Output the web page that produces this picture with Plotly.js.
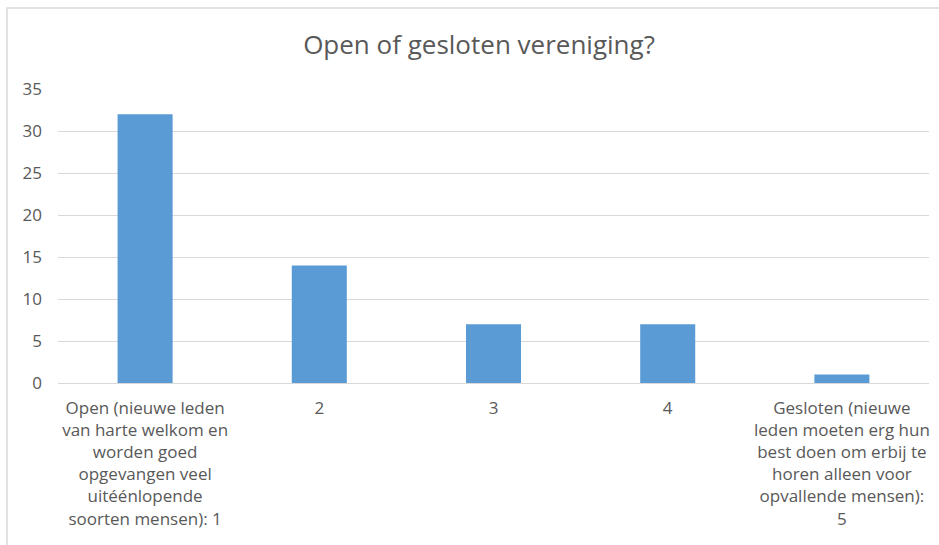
<!DOCTYPE html>
<html>
<head>
<meta charset="utf-8">
<script src="https://cdn.plot.ly/plotly-3.0.1.min.js"></script>
<style>html,body{margin:0;padding:0;background:#fff;}#chart{width:939px;height:545px;}</style>
</head>
<body>
<div id="chart"></div>
<script>
const categories = [
  "Open (nieuwe leden<br>van harte welkom en<br>worden goed<br>opgevangen veel<br>uitéénlopende<br>soorten mensen): 1",
  "2",
  "3",
  "4",
  "Gesloten (nieuwe<br>leden moeten erg hun<br>best doen om erbij te<br>horen alleen voor<br>opvallende mensen):<br>5"
];
const values = [32, 14, 7, 7, 1];
const yTicks = [0, 5, 10, 15, 20, 25, 30, 35];
const titleText = "Open of gesloten vereniging?";

const W = 939, H = 545;
const m = {l: 58, r: 10, t: 89, b: 162};
const pw = W - m.l - m.r, ph = H - m.t - m.b;
const px = v => (v - m.l) / pw;
const py = v => (H - m.b - v) / ph;

const fontFam = "'Open Sans', sans-serif";
const grey = "#595959";

Plotly.newPlot("chart", [{
  type: "bar",
  x: categories,
  y: values,
  marker: {color: "#5B9BD5"},
  width: 0.316,
  hoverinfo: "none"
}], {
  width: W, height: H,
  margin: m,
  paper_bgcolor: "#fff",
  plot_bgcolor: "#fff",
  showlegend: false,
  font: {family: fontFam, color: grey, size: 17},
  title: {text: titleText, x: 479 / W, xref: "container", xanchor: "center",
          y: 1 - 45 / H, yref: "container", yanchor: "middle",
          font: {family: fontFam, size: 26, color: grey}},
  xaxis: {
    type: "category",
    showgrid: false, zeroline: false, showline: false,
    ticks: "", tickfont: {family: fontFam, size: 17, color: grey},
    ticklabelstandoff: 13, automargin: false
  },
  yaxis: {
    range: [0, 35], tickvals: yTicks, ticktext: yTicks.map(String),
    showgrid: true, gridcolor: "#d9d9d9", gridwidth: 1,
    zeroline: true, zerolinecolor: "#d9d9d9", zerolinewidth: 1,
    showline: false, ticks: "",
    tickfont: {family: fontFam, size: 17, color: grey},
    ticklabelstandoff: 15, automargin: false
  },
  shapes: [{
    type: "rect", xref: "paper", yref: "paper",
    x0: px(7), x1: px(W + 20), y0: py(H + 20), y1: py(8),
    line: {color: "#d9d9d9", width: 1.5}, fillcolor: "rgba(0,0,0,0)", layer: "below"
  }]
}, {displayModeBar: false, staticPlot: true});
</script>
</body>
</html>
